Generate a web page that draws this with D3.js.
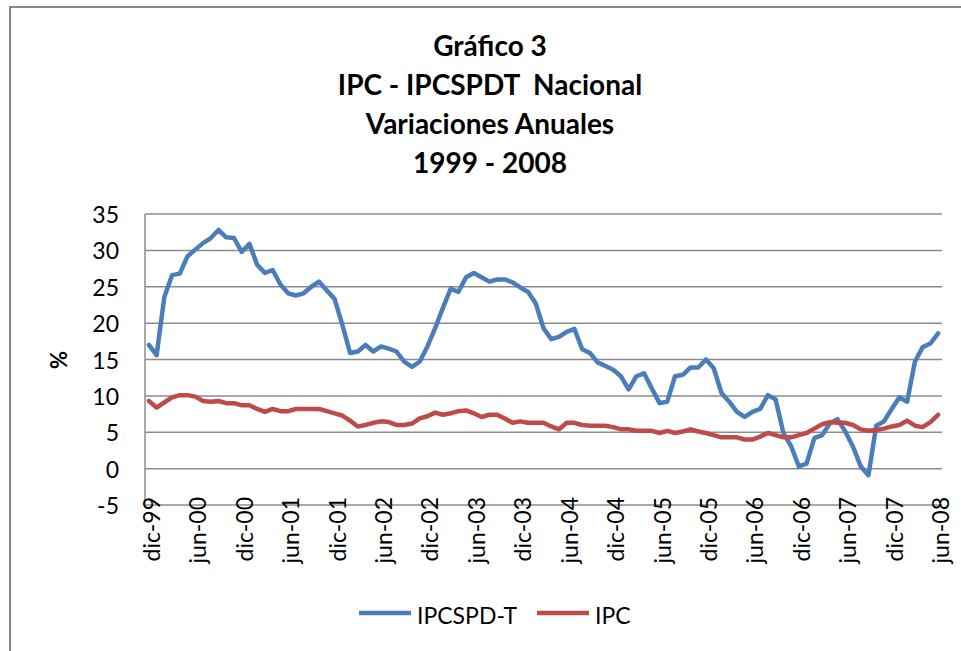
<!DOCTYPE html>
<html>
<head>
<meta charset="utf-8">
<script src="https://cdn.jsdelivr.net/npm/d3@7"></script>
<style>
  body { margin: 0; background: #fff; }
  svg { display: block; }
  text { font-family: Lato, "Open Sans", sans-serif; fill: #000; }
</style>
</head>
<body>
<div id="chart"></div>
<script>
// monthly categories, dic-99 .. jun-08
const months = d3.timeMonth.range(new Date(1999, 11, 1), new Date(2008, 6, 1));
const tickLabels = ['dic-99', 'jun-00', 'dic-00', 'jun-01', 'dic-01', 'jun-02', 'dic-02', 'jun-03', 'dic-03',
    'jun-04', 'dic-04', 'jun-05', 'dic-05', 'jun-06', 'dic-06', 'jun-07', 'dic-07', 'jun-08'];
const yTicks = [-5, 0, 5, 10, 15, 20, 25, 30, 35];
const titleLines = ['Gráfico 3', 'IPC - IPCSPDT  Nacional', 'Variaciones Anuales', '1999 - 2008'];

const ipcspdt = [17.0, 15.6, 23.6, 26.6, 26.8, 29.2, 30.1, 31.0, 31.7, 32.8, 31.8, 31.7, 29.8, 30.9, 28.0, 26.9,
    27.3, 25.3, 24.1, 23.8, 24.1, 25.0, 25.7, 24.5, 23.3, 19.8, 15.9, 16.1, 17.0, 16.1, 16.8, 16.5, 16.1, 14.7,
    14.0, 14.7, 16.8, 19.3, 22.1, 24.7, 24.3, 26.3, 26.9, 26.3, 25.7, 26.0, 26.0, 25.6, 24.9, 24.3, 22.7, 19.3,
    17.8, 18.1, 18.8, 19.2, 16.4, 15.9, 14.6, 14.1, 13.6, 12.7, 10.9, 12.7, 13.1, 11.0, 9.0, 9.2, 12.7, 12.9,
    13.9, 13.9, 15.0, 13.8, 10.4, 9.2, 7.8, 7.1, 7.8, 8.2, 10.1, 9.5, 4.9, 3.1, 0.3, 0.7, 4.2, 4.6, 6.2, 6.8,
    5.1, 3.0, 0.3, -0.9, 5.9, 6.5, 8.2, 9.8, 9.2, 14.7, 16.7, 17.2, 18.6];
const ipc = [9.3, 8.4, 9.1, 9.8, 10.1, 10.1, 9.9, 9.3, 9.2, 9.3, 9.0, 9.0, 8.7, 8.7, 8.2, 7.8, 8.2, 7.9, 7.9,
    8.2, 8.2, 8.2, 8.2, 7.9, 7.6, 7.3, 6.6, 5.8, 6.0, 6.3, 6.5, 6.4, 6.0, 6.0, 6.2, 6.9, 7.2, 7.7, 7.4, 7.6,
    7.9, 8.0, 7.6, 7.1, 7.4, 7.4, 6.9, 6.3, 6.5, 6.3, 6.3, 6.3, 5.8, 5.4, 6.3, 6.3, 6.0, 5.9, 5.9, 5.9, 5.7,
    5.4, 5.4, 5.2, 5.2, 5.2, 4.9, 5.2, 4.9, 5.1, 5.4, 5.1, 4.9, 4.6, 4.3, 4.3, 4.3, 4.0, 4.0, 4.4, 4.9, 4.6,
    4.3, 4.3, 4.6, 4.9, 5.5, 6.1, 6.4, 6.3, 6.3, 6.0, 5.4, 5.2, 5.3, 5.5, 5.8, 6.0, 6.6, 5.9, 5.7, 6.4, 7.4];

const series = [
    { name: 'IPCSPD-T', values: ipcspdt, color: '#4a7ebb' },
    { name: 'IPC', values: ipc, color: '#be4b48' }
];

const width = 961, height = 651;
const plot = { left: 145, right: 942, top: 214, bottom: 505 };

const svg = d3.select('#chart').append('svg')
    .attr('width', width)
    .attr('height', height);

// outer chart frame (runs off the right and bottom edge)
svg.append('rect')
    .attr('x', 10).attr('y', 7)
    .attr('width', 1000).attr('height', 700)
    .attr('fill', 'none')
    .attr('stroke', '#868686')
    .attr('stroke-width', 2);

const x = d3.scalePoint()
    .domain(months)
    .range([plot.left, plot.right])
    .padding(0.5);
const y = d3.scaleLinear()
    .domain([-5, 35])
    .range([plot.bottom, plot.top]);

// title
svg.append('g')
    .selectAll('text')
    .data(titleLines)
    .enter()
    .append('text')
    .attr('x', 490)
    .attr('y', (d, i) => 56 + i * 39)
    .attr('text-anchor', 'middle')
    .style('font-weight', 'bold')
    .style('font-size', '28px')
    .style('white-space', 'pre')
    .text(d => d);

// gridlines
svg.append('g')
    .selectAll('line')
    .data(yTicks)
    .enter()
    .append('line')
    .attr('x1', plot.left).attr('x2', plot.right)
    .attr('y1', d => y(d)).attr('y2', d => y(d))
    .attr('stroke', '#8c8c8c')
    .attr('stroke-width', 1.5);

svg.append('line')
    .attr('x1', plot.left).attr('x2', plot.left)
    .attr('y1', plot.top).attr('y2', plot.bottom)
    .attr('stroke', '#8c8c8c')
    .attr('stroke-width', 1.5);

// y tick labels
svg.append('g')
    .selectAll('text')
    .data(yTicks)
    .enter()
    .append('text')
    .attr('x', 119)
    .attr('y', d => y(d) + 9)
    .attr('text-anchor', 'end')
    .style('font-size', '23px')
    .text(d => d);

svg.append('text')
    .attr('transform', 'translate(67,360) rotate(-90)')
    .attr('text-anchor', 'middle')
    .style('font-weight', 'bold')
    .style('font-size', '22px')
    .text('%');

// x tick labels, one every 6 months
svg.append('g')
    .selectAll('text')
    .data(tickLabels)
    .enter()
    .append('text')
    .attr('transform', (d, i) => `translate(${x(months[i * 6]) + 11},497) rotate(-90)`)
    .attr('text-anchor', 'end')
    .style('font-size', '23px')
    .text(d => d);

// lines
const line = d3.line()
    .x((d, i) => x(months[i]))
    .y(d => y(d));

svg.append('g')
    .selectAll('path')
    .data(series)
    .enter()
    .append('path')
    .attr('d', d => line(d.values))
    .attr('fill', 'none')
    .attr('stroke', d => d.color)
    .attr('stroke-width', 4.5)
    .attr('stroke-linejoin', 'round')
    .attr('stroke-linecap', 'round');

// legend
const legendX = [359, 537];
const legend = svg.append('g')
    .selectAll('g')
    .data(series)
    .enter()
    .append('g')
    .attr('transform', (d, i) => `translate(${legendX[i]},613)`);
legend.append('line')
    .attr('x1', 0).attr('x2', 52)
    .attr('stroke', d => d.color)
    .attr('stroke-width', 4.5);
legend.append('text')
    .attr('x', 58)
    .attr('y', 11)
    .style('font-size', '23px')
    .text(d => d.name);
</script>
</body>
</html>
